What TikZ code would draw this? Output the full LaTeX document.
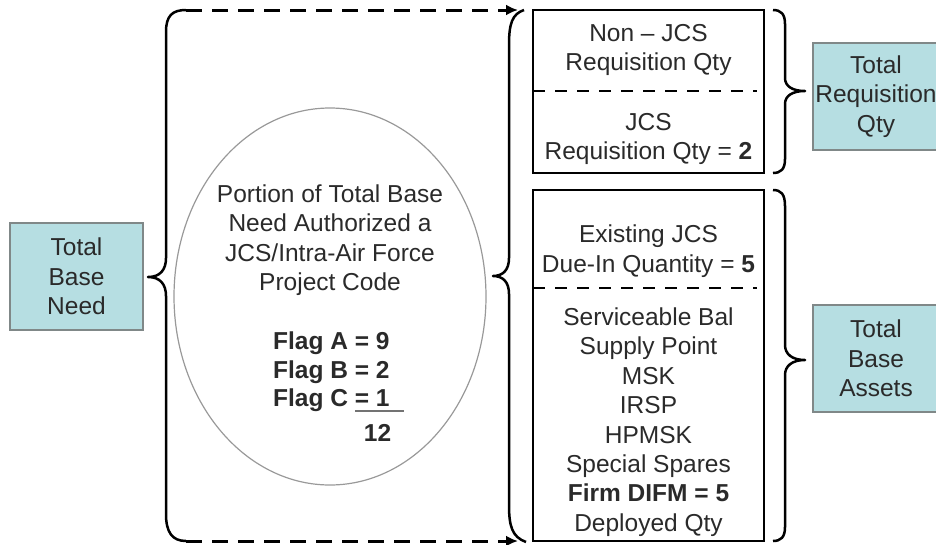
\documentclass[tikz,border=0pt]{standalone}
\usepackage{fontspec}
\setmainfont{Liberation Sans}
\usetikzlibrary{arrows.meta,shapes.geometric}
\definecolor{teal1}{HTML}{B6DEE2}
\definecolor{tealedge}{HTML}{808888}
\definecolor{txtc}{HTML}{2A2A2A}
\tikzset{
  tbox/.style={draw=tealedge, line width=1.5pt, fill=teal1, inner sep=0pt, align=center, text=txtc,
    font=\fontsize{24.5}{29.5}\selectfont},
  rbox/.style={draw=black, line width=2.5pt, inner sep=0pt},
  txt/.style={align=center, text=txtc, inner sep=0pt, font=\fontsize{24.5}{29.5}\selectfont},
  boldtxt/.style={txt, font=\fontsize{24.5}{29.5}\selectfont\bfseries},
  brace/.style={draw=black, line width=2.5pt, line join=round},
  dasharrow/.style={draw=black, line width=3pt, dash pattern=on 16pt off 10pt, -{Latex[length=12pt,width=11pt]}},
  divider/.style={draw=black, line width=2pt, dash pattern=on 12pt off 10pt},
  ell/.style={draw=black!40, line width=1.2pt, ellipse, inner sep=0pt}
}
\begin{document}
\begin{tikzpicture}[x=1pt, y=-1pt]
\useasboundingbox (0,0) rectangle (936,544);
\clip (0,0) rectangle (936,544);

% left box
\node[tbox, minimum width=133pt, minimum height=107pt] (need) at (76.5,276.5) {Total\\Base\\Need};

% left brace
\path[brace] (186,10) .. controls (172,10) and (166,16) .. (166,32) -- (166,258)
  .. controls (166,270) and (160,277) .. (148,277)
  .. controls (160,277) and (166,284) .. (166,296) -- (166,514)
  .. controls (166,532) and (172,541) .. (186,541);

% dashed arrows
\coordinate (lt) at (186,10);
\coordinate (lb) at (186,541);
\coordinate (mt) at (518,10);
\coordinate (mb) at (518,541);
\draw[dasharrow] (lt) -- (mt);
\draw[dasharrow] (lb) -- (mb);

% ellipse
\node[ell, minimum width=312pt, minimum height=377pt] (el) at (330,296.5) {};
\node[txt] (port) at (330,240) {Portion of Total Base\\Need Authorized a\\JCS/Intra-Air Force\\Project Code};
\node[boldtxt, anchor=base west] (fa) at (273,349.6) {Flag A = 9};
\node[boldtxt, anchor=base west] (fb) at (273,378.6) {Flag B = 2};
\node[boldtxt, anchor=base west] (fc) at (273,406.6) {Flag C = 1};
\node[boldtxt, anchor=base] (sum) at (377.5,441.6) {12};
\coordinate (ul1) at (355,411);
\coordinate (ul2) at (404,411);
\draw[black!55, line width=1.5pt] (ul1) -- (ul2);

% middle brace
\path[brace] (524,10) .. controls (512,14) and (509,24) .. (509,45) -- (509,258)
  .. controls (509,270) and (503,276) .. (493,276)
  .. controls (503,276) and (509,282) .. (509,294) -- (509,505)
  .. controls (509,526) and (512,537) .. (526,542);

% right boxes
\node[rbox, minimum width=231pt, minimum height=163pt] (req) at (648.5,91.5) {};
\coordinate (d1a) at (533,91);
\coordinate (d1b) at (757,91);
\draw[divider] (d1a) -- (d1b);
\node[txt] (nonjcs) at (648.5,50) {Non – JCS\\Requisition Qty};
\node[txt] (jcs) at (648.5,139) {JCS\\Requisition Qty = \textbf{2}};

\node[rbox, minimum width=231pt, minimum height=351pt] (ast) at (648.5,365.5) {};
\coordinate (d2a) at (533,288);
\coordinate (d2b) at (757,288);
\draw[divider] (d2a) -- (d2b);
\node[txt] (exist) at (648.5,251) {Existing JCS\\Due-In Quantity = \textbf{5}};
\node[txt, font=\fontsize{24.5}{29.4}\selectfont] (list) at (648.5,422) {Serviceable Bal\\Supply Point\\MSK\\IRSP\\HPMSK\\Special Spares\\\textbf{Firm DIFM = 5}\\Deployed Qty};

% right braces
\path[brace] (773,10) .. controls (781,10) and (785,14) .. (785,24) -- (785,78)
  .. controls (785,86) and (792,91) .. (805,91)
  .. controls (792,91) and (785,96) .. (785,104) -- (785,159)
  .. controls (785,169) and (781,173) .. (773,173);
\path[brace] (773,190) .. controls (781,190) and (785,194) .. (785,206) -- (785,345)
  .. controls (785,354) and (792,360) .. (805,360)
  .. controls (792,360) and (785,366) .. (785,375) -- (785,527)
  .. controls (785,537) and (781,541) .. (773,541);

% right teal boxes
\node[tbox, minimum width=126pt, minimum height=107pt] (treq) at (876,96.5) {Total\\Requisition\\Qty};
\node[tbox, minimum width=126pt, minimum height=107pt] (tassets) at (876,358.5) {Total\\Base\\Assets};
\end{tikzpicture}
\end{document}
